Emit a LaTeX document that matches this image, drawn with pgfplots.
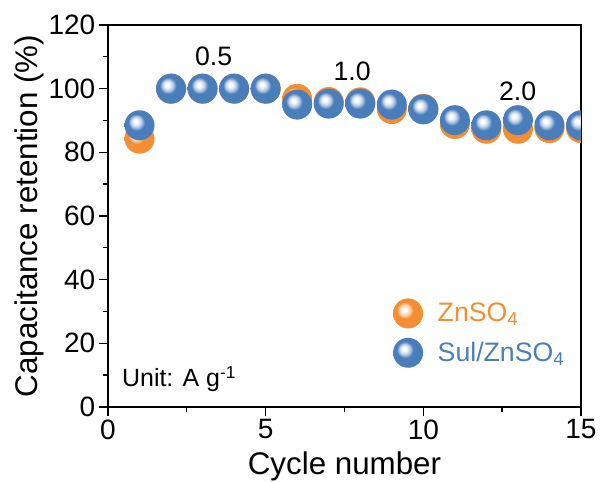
\documentclass[border=0pt]{standalone}
\usepackage{fontspec}
\setmainfont{Liberation Sans}
\usepackage{pgfplots}
\pgfplotsset{compat=1.18}
\definecolor{blueC}{RGB}{74,126,187}
\definecolor{blueL}{RGB}{190,208,232}
\definecolor{blueD}{RGB}{68,118,178}
\definecolor{orangeC}{RGB}{245,142,50}
\definecolor{orangeL}{RGB}{252,212,172}
\definecolor{orangeD}{RGB}{238,132,44}
\pgfdeclareradialshading{ballblue}{\pgfpoint{-7bp}{7bp}}{color(0bp)=(white); color(3bp)=(white); color(8.5bp)=(blueL); color(14bp)=(blueC); color(28bp)=(blueC); color(36bp)=(blueD); color(50bp)=(blueD)}
\pgfdeclareradialshading{ballorange}{\pgfpoint{-7bp}{7bp}}{color(0bp)=(white); color(3bp)=(white); color(8.5bp)=(orangeL); color(14bp)=(orangeC); color(28bp)=(orangeC); color(36bp)=(orangeD); color(50bp)=(orangeD)}
\pgfdeclareplotmark{ballB}{\pgfpathcircle{\pgfpointorigin}{\pgfplotmarksize}\pgfshadepath{ballblue}{0}\pgfusepath{discard}}
\pgfdeclareplotmark{ballO}{\pgfpathcircle{\pgfpointorigin}{\pgfplotmarksize}\pgfshadepath{ballorange}{0}\pgfusepath{discard}}
\begin{document}
\begin{tikzpicture}
\begin{axis}[
  at={(0,0)}, anchor=south west,
  scale only axis, width=354.75pt, height=286.5pt,
  xmin=0, xmax=15, ymin=0, ymax=120,
  xtick={0,5,10,15}, ytick={0,20,...,120},
  minor x tick num=1, minor y tick num=1,
  tick pos=left, tick align=outside,
  major tick length=7pt, minor tick length=3.5pt,
  axis line style={line width=1pt}, every tick/.style={line width=1pt, black},
  /pgf/number format/assume math mode=true,
  tick label style={font=\fontsize{21}{24}\selectfont},
  xticklabel style={yshift=1pt},
  yticklabel style={xshift=1pt},
  xlabel={Cycle number}, ylabel={Capacitance retention (\%)},
  label style={font=\fontsize{23.5}{27}\selectfont},
  xlabel style={at={(axis description cs:0.5,-0.178)}, anchor=base},
  ylabel style={at={(axis description cs:-0.1663,0.5)}, anchor=center},
  clip marker paths=true,
  legend image code/.code={\draw[#1] plot coordinates {(0pt,0pt)};},
  legend style={at={(axis cs:9.04,34.1)}, anchor=north west, draw=none, fill=none,
    inner sep=0pt, outer sep=0pt, row sep=7pt, column sep=10pt,
    nodes={inner sep=1pt, font=\fontsize{20}{23}\selectfont}},
  legend cell align=left,
]
\addplot[only marks, mark=ballO, mark size=11.25pt] coordinates {
(1,84.3) (2,100) (3,100) (4,100) (5,100) (6,96.8) (7,95.8) (8,95.7) (9,93.6) (10,93.7)
(11,88.9) (12,87.4) (13,87.4) (14,87.6) (15,87.6)};
\addlegendentry{\textcolor{orangeC}{ZnSO\textsubscript{4}}}
\addplot[only marks, mark=ballB, mark size=11.25pt] coordinates {
(1,88.5) (2,100) (3,100) (4,100) (5,100) (6,95.0) (7,95.3) (8,95.3) (9,95.0) (10,93.5)
(11,90.1) (12,88.5) (13,90.1) (14,88.5) (15,88.5)};
\addlegendentry{\textcolor{blueC}{Sul/ZnSO\textsubscript{4}}}
\node[font=\fontsize{20}{23}\selectfont, anchor=center] at (axis cs:3.35,110.3) {0.5};
\node[font=\fontsize{20}{23}\selectfont, anchor=center] at (axis cs:7.74,105.3) {1.0};
\node[font=\fontsize{20}{23}\selectfont, anchor=center] at (axis cs:12.99,99.1) {2.0};
\node[font=\fontsize{18.7}{22}\selectfont, anchor=base west, inner sep=0pt] at (axis cs:0.44,6.3) {Unit: A g\textsuperscript{-1}};
\end{axis}
\pgfresetboundingbox
\path[use as bounding box] (-81pt,-56.25pt) rectangle (369.75pt,305.25pt);
\end{tikzpicture}
\end{document}
